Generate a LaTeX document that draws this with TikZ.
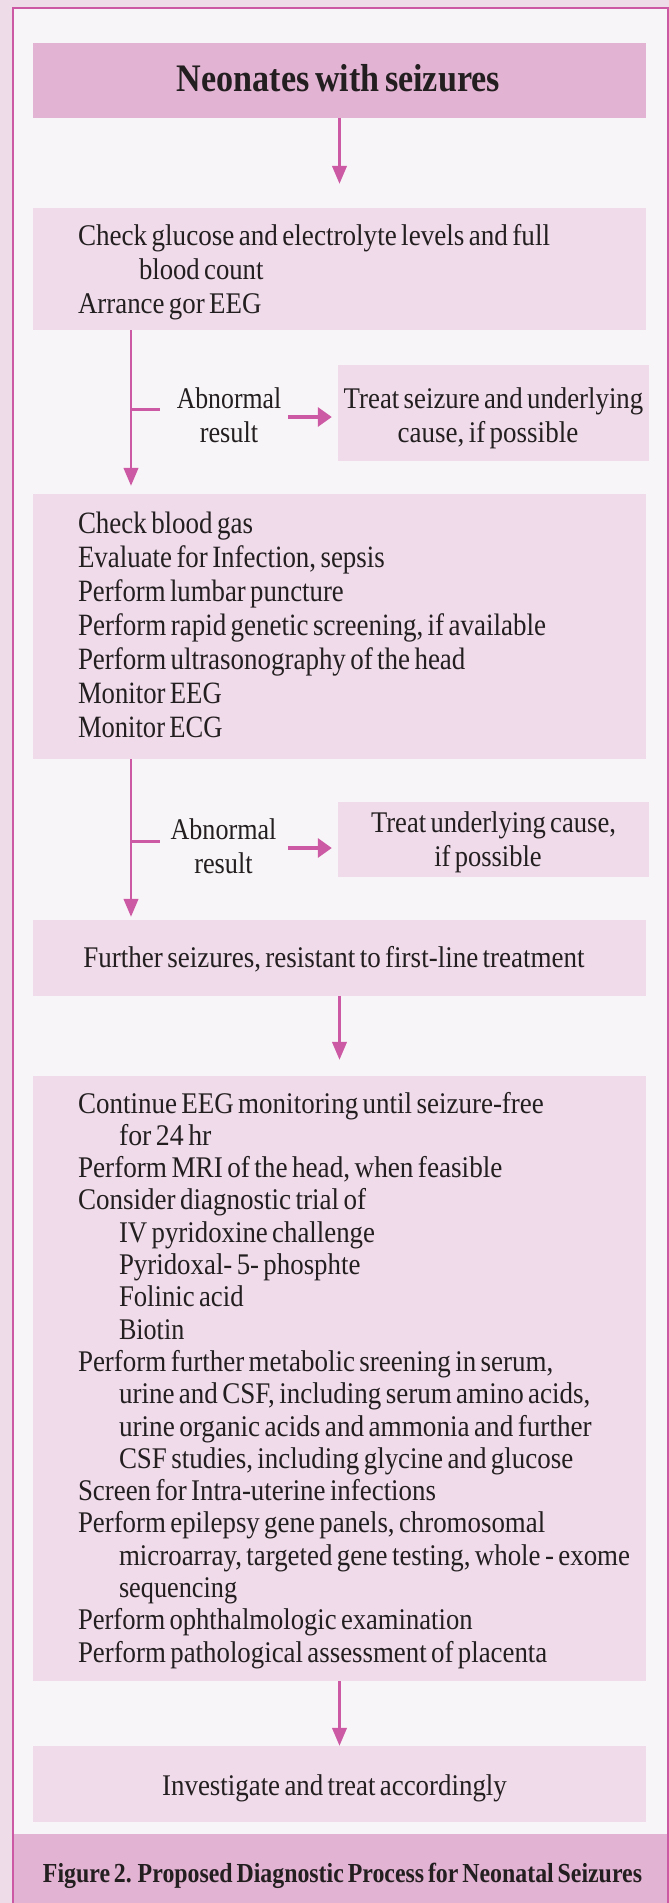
\documentclass[tikz,border=0pt]{standalone}
\usepackage{fontspec}
\usepackage{graphicx}
\setmainfont{Liberation Serif}[FakeStretch=0.85, WordSpace=0.65]
\usetikzlibrary{arrows.meta}
\definecolor{outerbg}{RGB}{239,220,233}
\definecolor{innerbg}{RGB}{248,245,248}
\definecolor{darkfill}{RGB}{226,179,210}
\definecolor{lightfill}{RGB}{240,219,234}
\definecolor{pinkline}{RGB}{203,89,163}
\definecolor{txt}{RGB}{35,31,32}
\newcommand{\mybodyfont}{\fontsize{30}{34}\selectfont}
\newcommand{\mybigfont}{\fontsize{31}{34}\selectfont}
\newcommand{\mylistfont}{\fontsize{30}{32.3}\selectfont}
\newcommand{\mytitlefont}{\bfseries\fontsize{39}{44}\selectfont}
\newcommand{\mycapfont}{\bfseries\fontsize{27.5}{32}\selectfont}
% fit a line of text to the width measured in the reference (font's own word space)
\newcommand{\fw}[2]{\resizebox{#1pt}{\height}{\spaceskip=0pt\xspaceskip=0pt #2}}
\begin{document}
\begin{tikzpicture}[x=1pt,y=-1pt,
  boxbase/.style={rectangle, fill=lightfill, draw=none, inner sep=0pt, minimum width=613pt, text=txt, font=\mybodyfont},
  listbox/.style={boxbase, inner xsep=45pt, text width=523pt, align=left},
  midbox/.style={boxbase, align=center},
  sidebox/.style={rectangle, fill=lightfill, draw=none, inner sep=0pt, minimum width=311pt, text width=311pt, align=center, text=txt, font=\mybodyfont},
  labeltext/.style={inner sep=0pt, align=center, text=txt, font=\mybodyfont},
  varr/.style={draw=pinkline, line width=2.6pt, -{Triangle[width=14.5pt,length=18pt]}},
  harr/.style={draw=pinkline, line width=3.2pt, -{Triangle[width=19pt,length=14pt]}},
  branch/.style={draw=pinkline, line width=3pt}
]
\useasboundingbox (0,0) rectangle (669,1903);
% backgrounds
\fill[outerbg] (0,0) rectangle (669,1903);
\fill[innerbg] (13,8) rectangle (668,1903);
\node[rectangle, fill=darkfill, inner sep=0pt, minimum width=656pt, minimum height=69pt, text=txt, font=\mycapfont, text height=33pt, text depth=6pt] (cap) at (341,1868.5) {\hspace*{3pt}\fw{599}{Figure 2. Proposed Diagnostic Process for Neonatal Seizures}};
\draw[pinkline, line width=2.5pt] (668,1903) -- (668,8) -- (13,8) -- (13,1903);

% main boxes
\node[midbox, fill=darkfill, minimum height=75pt, font=\mytitlefont, text height=27pt, text depth=6pt] (title) at (339.5,80.5) {\fw{323}{Neonates with seizures}\hspace*{2pt}};

\node[listbox, minimum height=122pt, text height=27pt, text depth=75pt] (box2) at (339.5,269) {\begin{tabular}[t]{@{}l@{}}
\fw{472}{Check glucose and electrolyte levels and full}\\
\hspace*{61pt}\fw{124.5}{blood count}\\
\fw{183.5}{Arrance gor EEG}
\end{tabular}};

\node[sidebox, minimum height=96pt, text height=30pt, text depth=40pt] (side1) at (493.5,413) {\fw{299.5}{Treat seizure and underlying}\hspace*{9pt}\\\fw{180.5}{cause, if possible}\hspace*{11pt}};
\node[labeltext, text height=60pt, text depth=2pt] (lab1) at (229,413) {\fw{104.5}{Abnormal}\\\fw{58.4}{result}};

\node[listbox, font=\mybigfont, minimum height=265pt, text height=27pt, text depth=214pt] (box3) at (339.5,626.5) {\begin{tabular}[t]{@{}l@{}}
\fw{175}{Check blood gas}\\
\fw{306.8}{Evaluate for Infection, sepsis}\\
\fw{265.8}{Perform lumbar puncture}\\
\fw{468}{Perform rapid genetic screening, if available}\\
\fw{387.4}{Perform ultrasonography of the head}\\
\fw{143.8}{Monitor EEG}\\
\fw{144.6}{Monitor ECG}
\end{tabular}};

\node[sidebox, minimum height=75pt, text height=28pt, text depth=43pt] (side2) at (493.5,839.5) {\fw{244.9}{Treat underlying cause,}\hspace*{10pt}\\\fw{107.5}{if possible}\hspace*{11pt}};
\node[labeltext, text height=60pt, text depth=4pt] (lab2) at (223.5,845) {\fw{105.8}{Abnormal}\\\fw{58.5}{result}};

\node[midbox, minimum height=76pt, text height=24pt, text depth=6pt] (box4) at (339.5,958) {\fw{501.3}{Further seizures, resistant to first-line treatment}\hspace*{11pt}};

\node[listbox, font=\mylistfont, minimum height=605pt, text height=27pt, text depth=558pt] (box5) at (339.5,1378.5) {\begin{tabular}[t]{@{}l@{}}
\fw{465.9}{Continue EEG monitoring until seizure-free}\\
\hspace*{41pt}\fw{92.5}{for 24 hr}\\
\fw{424.5}{Perform MRI of the head, when feasible}\\
\fw{288}{Consider diagnostic trial of}\\
\hspace*{41pt}\fw{256}{IV pyridoxine challenge}\\
\hspace*{41pt}\fw{241.5}{Pyridoxal- 5- phosphte}\\
\hspace*{41pt}\fw{124.6}{Folinic acid}\\
\hspace*{41pt}\fw{65.3}{Biotin}\\
\fw{475.3}{Perform further metabolic sreening in serum,}\\
\hspace*{41pt}\fw{471.4}{urine and CSF, including serum amino acids,}\\
\hspace*{41pt}\fw{472.7}{urine organic acids and ammonia and further}\\
\hspace*{41pt}\fw{454.3}{CSF studies, including glycine and glucose}\\
\fw{358}{Screen for Intra-uterine infections}\\
\fw{467.2}{Perform epilepsy gene panels, chromosomal}\\
\hspace*{41pt}\fw{511}{microarray, targeted gene testing, whole - exome}\\
\hspace*{41pt}\fw{118.2}{sequencing}\\
\fw{394.6}{Perform ophthalmologic examination}\\
\fw{469.3}{Perform pathological assessment of placenta}
\end{tabular}};

\node[midbox, minimum height=76pt, text height=28pt, text depth=6pt] (box6) at (339.5,1784) {\fw{344.7}{Investigate and treat accordingly}\hspace*{10pt}};

% helper coordinates
\coordinate (v1) at (131,0);
\coordinate (b1) at (160,409);
\coordinate (r1) at (288,417);
\coordinate (b2) at (160,841);
\coordinate (r2) at (288,848);

% connectors
\draw[varr, shorten >=24pt] (title.south) -- (box2.north);
\draw[varr, shorten >=8pt] (box2.south -| v1) -- (box3.north -| v1);
\draw[branch] (b1 -| v1) -- (b1);
\draw[harr, shorten >=6pt] (r1) -- (r1 -| side1.west);
\draw[varr, shorten >=3pt] (box3.south -| v1) -- (box4.north -| v1);
\draw[branch] (b2 -| v1) -- (b2);
\draw[harr, shorten >=6pt] (r2) -- (r2 -| side2.west);
\draw[varr, shorten >=16pt] (box4.south) -- (box5.north);
\draw[varr] (box5.south) -- (box6.north);
\end{tikzpicture}
\end{document}
